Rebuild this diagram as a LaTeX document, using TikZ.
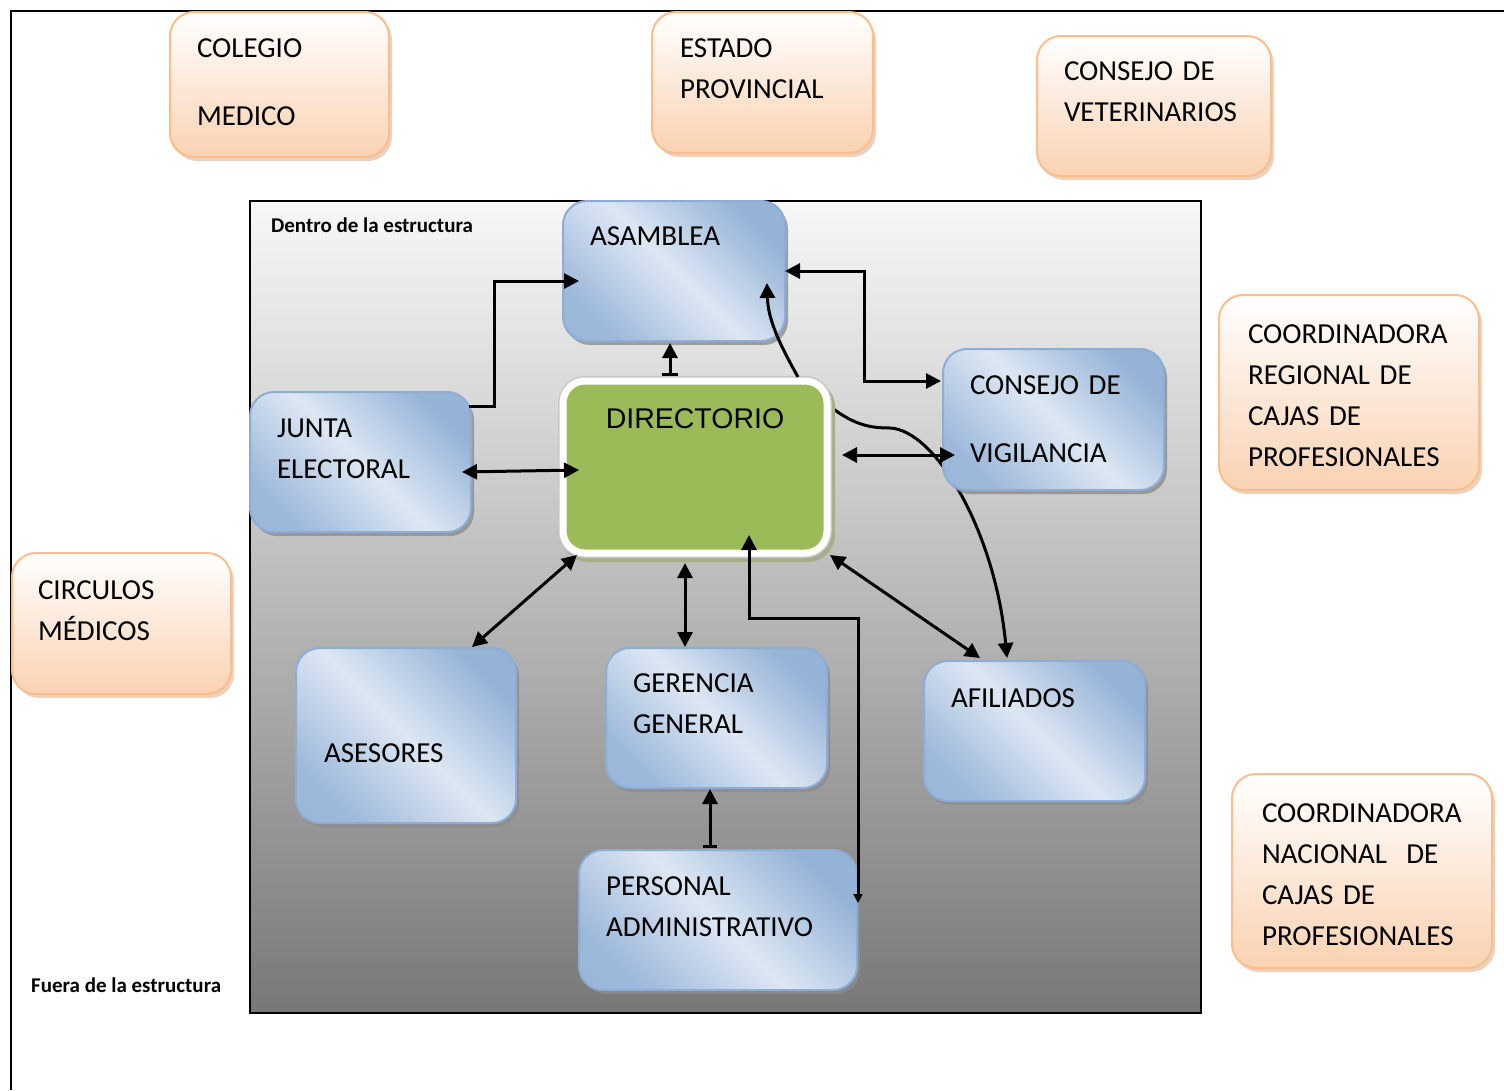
\documentclass[tikz,border=0pt]{standalone}
\usepackage{fontspec}
\setmainfont{Carlito}
\newfontfamily\arialfont{Liberation Sans}
\usetikzlibrary{positioning, calc, arrows.meta, shadows}
\definecolor{bluedark}{RGB}{149,179,215}
\definecolor{bluelight}{RGB}{221,231,243}
\definecolor{blueedge}{RGB}{141,173,214}
\definecolor{orangefill}{RGB}{250,210,178}
\definecolor{orangeedge}{RGB}{249,190,140}
\definecolor{orangeshadow}{RGB}{214,165,128}
\definecolor{greenfill}{RGB}{155,187,89}
\definecolor{dirshadow}{RGB}{165,175,140}
\pgfdeclarehorizontalshading{bluediag}{100bp}{color(0bp)=(bluedark); color(25bp)=(bluedark!90!bluelight); color(50bp)=(bluelight); color(75bp)=(bluedark); color(100bp)=(bluedark)}
\pgfdeclarelayer{back}
\pgfsetlayers{back,main}

\begin{document}
\begin{tikzpicture}[x=1pt, y=-1pt,
    >={Triangle[length=15pt,width=15pt]},
    box/.style={rounded corners=24pt, line width=2pt, anchor=north west,
        outer sep=0pt, inner ysep=0pt, inner xsep=27pt, align=left,
        font=\fontsize{29}{41}\selectfont},
    bluebox/.style={box, draw=blueedge, shade, shading=bluediag, shading angle=45,
        drop shadow={shadow xshift=3pt, shadow yshift=-4pt, fill=black!45, opacity=0.8}},
    orangebox/.style={box, draw=orangeedge, top color=white, bottom color=orangefill,
        drop shadow={shadow xshift=3pt, shadow yshift=-4pt, fill=orangeshadow}},
    tag/.style={anchor=base west, inner sep=0pt, font=\fontsize{21}{25}\selectfont\bfseries},
    line/.style={line width=3pt}
    ]
    \useasboundingbox (0,0) rectangle (1504,1090);
    \draw[line width=2pt] (11,1090) -- (11,11) -- (1504,11);
    \begin{pgfonlayer}{back}
        \shade[top color=black!3, bottom color=black!53, draw=black, line width=2pt]
            (250,201) rectangle (1201,1013);
    \end{pgfonlayer}
    \node[tag] (dentro) at (271,232) {Dentro de la estructura};
    \node[tag] (fuera) at (31,992) {Fuera de la estructura};

    % fuera de la estructura
    \node[orangebox, text width=165pt, text height=45pt, text depth=100pt] (colegio) at (170,12) {COLEGIO\\[27pt]MEDICO};
    \node[orangebox, inner xsep=28pt, text width=165pt, text height=45pt, text depth=96pt] (estado) at (652,12) {ESTADO\\PROVINCIAL};
    \node[orangebox, text width=180pt, text height=44pt, text depth=96pt] (veterin) at (1037,36) {CONSEJO DE\\VETERINARIOS};
    \node[orangebox, inner xsep=29pt, text width=202pt, text height=48pt, text depth=147pt] (coordreg) at (1219,295) {COORDINADORA\\REGIONAL DE\\CAJAS DE\\PROFESIONALES};
    \node[orangebox, inner xsep=26pt, text width=167pt, text height=46pt, text depth=95pt] (circulos) at (12,553) {CIRCULOS\\MÉDICOS};
    \node[orangebox, inner xsep=30pt, text width=200pt, text height=48pt, text depth=146pt] (coordnac) at (1232,774) {COORDINADORA\\NACIONAL\ \ DE\\CAJAS DE\\PROFESIONALES};

    % dentro de la estructura
    \node[bluebox, text width=168pt, text height=44pt, text depth=96pt] (asamblea) at (563,201) {ASAMBLEA};
    \node[bluebox, text width=167pt, text height=45pt, text depth=95pt] (junta) at (250,392) {JUNTA\\ELECTORAL};
    \node[bluebox, text width=167pt, text height=45pt, text depth=96pt] (vigil) at (943,349) {CONSEJO DE\\[27pt]VIGILANCIA};
    \node[bluebox, inner xsep=28pt, text width=164pt, text height=114pt, text depth=61pt] (asesores) at (296,648) {ASESORES};
    \node[bluebox, text width=167pt, text height=44pt, text depth=96pt] (gerencia) at (606,648) {GERENCIA\\GENERAL};
    \node[bluebox, text width=167pt, text height=46pt, text depth=94pt] (afiliados) at (924,661) {AFILIADOS};
    \node[bluebox, text width=224pt, text height=45pt, text depth=95pt] (personal) at (579,850) {PERSONAL\\ADMINISTRATIVO};
    \node[anchor=north west, outer sep=0pt, inner sep=0pt, rounded corners=22pt,
        general shadow={shadow xshift=3pt, shadow yshift=-4pt, draw=dirshadow, line width=10pt, fill=dirshadow},
        preaction={draw=black!22, line width=10pt},
        fill=greenfill, draw=white, line width=7pt,
        text width=264pt, align=center, text height=47pt, text depth=125pt,
        font=\arialfont\fontsize{28.5}{34}\selectfont] (direc) at (563,381) {DIRECTORIO};

    % conectores
    \begin{pgfonlayer}{back}
        \draw[line, ->] ($(direc.east)+(5,-59)$) .. controls +(23,17) and +(-20,0) .. ($(direc.east)+(63,-39)$)
            .. controls +(45,2) and +(-12,-128) .. ($(afiliados.north)+(-27.5,-3)$);
    \end{pgfonlayer}
    \draw[line, ->] ($(junta.north east)+(-2,14)$) -- ++(25,0) |- ($(asamblea.west)+(16,10)$);
    \draw[line, {Bar[width=16pt]}->] ($(direc.north)+(-25,-5)$) -- ($(asamblea.south)+(-4,2)$);
    \draw[line, <->] (asamblea.east) -- ++(79,0) |- ($(vigil.north west)+(-2,32)$);
    \draw[line, ->] ($(direc.north east)+(-29,-4)$) .. controls +(-18,-32) and +(1,37) .. ($(asamblea.south east)+(-18,-58)$);
    \draw[line, <->] ($(junta.east)+(-9,10)$) -- ($(direc.west)+(16,3)$);
    \draw[line, <->] ($(direc.east)+(15,-12)$) -- ($(vigil.west)+(12,35.5)$);
    \draw[line, <->] ($(direc.south east)+(3,2)$) -- ($(afiliados.north west)+(56,-3)$);
    \draw[line, <->] ($(asesores.north east)+(-44,-1)$) -- ($(direc.south west)+(14,2)$);
    \draw[line, <->] ($(direc.south)+(-10,10)$) -- ($(gerencia.north)+(-31.5,-1)$);
    \draw[line, {Bar[width=14pt]}->] ($(personal.north)+(-8,-2)$) -- ($(gerencia.south)+(-6.5,1)$);
    \draw[line, {Triangle[length=9pt,width=9pt]}->] ($(personal.east)+(1,-17)$) -- ++(0,-285) -| ($(direc.south)+(54,-18)$);
\end{tikzpicture}
\end{document}
